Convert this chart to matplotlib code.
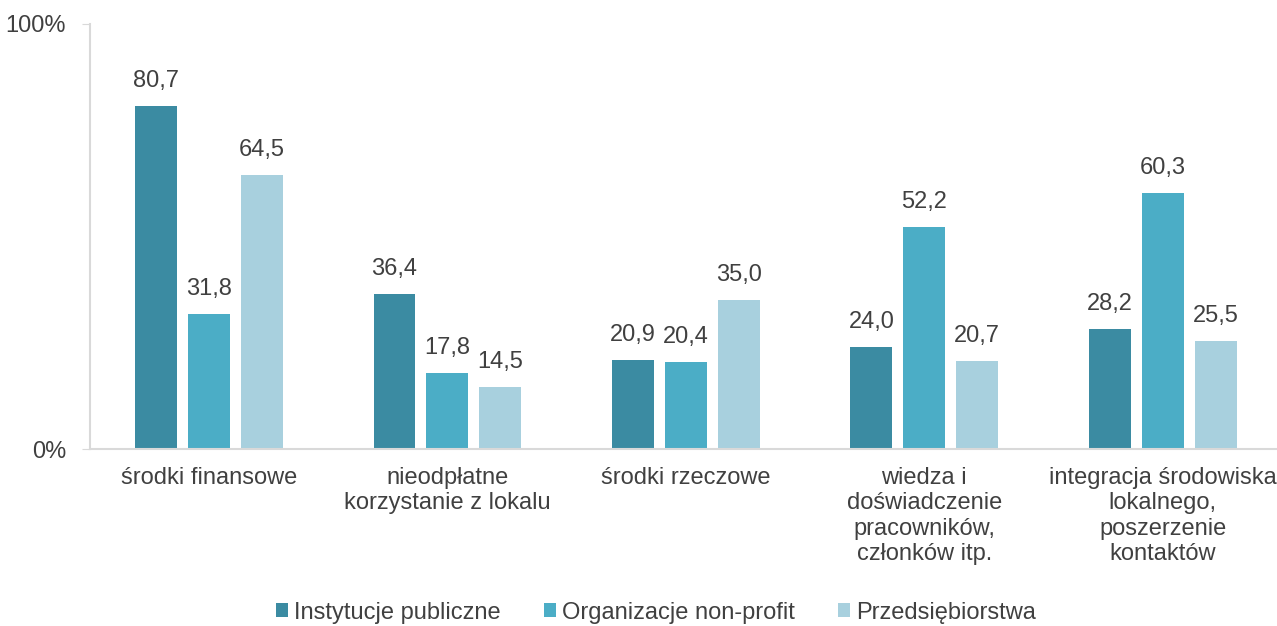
import matplotlib
matplotlib.use("Agg")
import matplotlib.pyplot as plt
import numpy as np

plt.rcParams['font.family'] = ['Liberation Sans', 'DejaVu Sans']

categories = ["środki finansowe", "nieodpłatne\nkorzystanie z lokalu", "środki rzeczowe",
              "wiedza i\ndoświadczenie\npracowników,\nczłonków itp.",
              "integracja środowiska\nlokalnego,\nposzerzenie\nkontaktów"]
series_names = ["Instytucje publiczne", "Organizacje non-profit", "Przedsiębiorstwa"]
instytucje = [80.7, 36.4, 20.9, 24.0, 28.2]
organizacje = [31.8, 17.8, 20.4, 52.2, 60.3]
przedsiebiorstwa = [64.5, 14.5, 35.0, 20.7, 25.5]
yticks = [0, 100]
ytick_labels = ["0%", "100%"]

colors = ["#3B8BA2", "#4BADC6", "#A8D0DE"]
text_color = "#404040"
fs = 17

fig = plt.figure(figsize=(12.77, 6.26), dpi=100)
left = 89.75
right = 1282
ax = fig.add_axes([left/1277, 1-449/626, (right-left)/1277, (449-24)/626])

x = np.arange(len(categories))
w = 0.176
offs = [-0.222, 0, 0.222]
for vals, off, c, name in zip([instytucje, organizacje, przedsiebiorstwa], offs, colors, series_names):
    bars = ax.bar(x + off, vals, width=w, color=c, label=name)
    for b, v in zip(bars, vals):
        ax.text(b.get_x() + b.get_width()/2, v + 5.9, f"{v:.1f}".replace(".", ","),
                ha="center", va="center", fontsize=fs, color=text_color)

ax.set_xlim(-0.5, len(categories) - 0.5)
ax.set_ylim(0, 100)
ax.set_yticks(yticks)
ax.set_yticklabels(ytick_labels, fontsize=fs, color=text_color)
ax.tick_params(axis="y", length=6, color="#D9D9D9", pad=11)
ax.set_xticks(x)
ax.set_xticklabels(categories, fontsize=fs, color=text_color, linespacing=1.2)
ax.tick_params(axis="x", length=0, pad=13)
for s in ["top", "right"]:
    ax.spines[s].set_visible(False)
for s in ["left", "bottom"]:
    ax.spines[s].set_color("#D9D9D9")
    ax.spines[s].set_linewidth(1.5)

leg = fig.legend(loc="lower center", bbox_to_anchor=(656/1277, -0.03), ncol=3, frameon=False,
                 fontsize=fs, handlelength=0.5, handleheight=0.5, handletextpad=0.25,
                 columnspacing=1.85)
for t in leg.get_texts():
    t.set_color(text_color)

fig.savefig("out.png", dpi=100)
